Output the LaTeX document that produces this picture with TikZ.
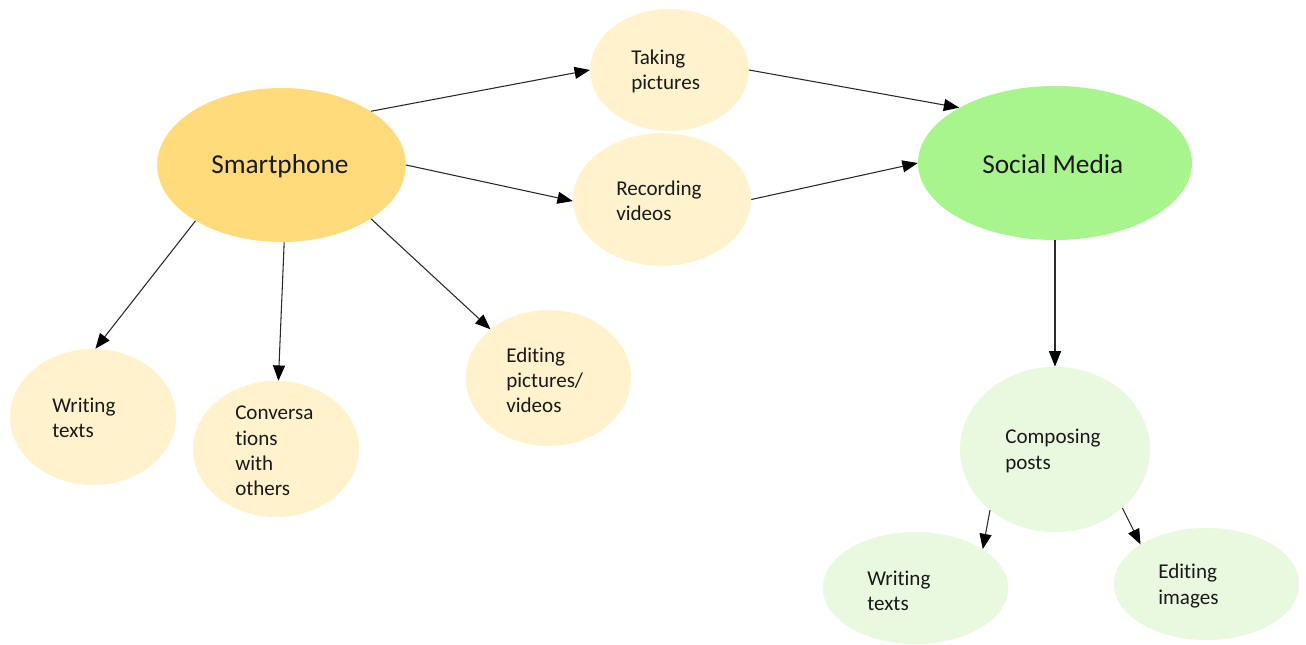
\documentclass[tikz,border=0pt]{standalone}
\usepackage{fontspec}
\setmainfont{Carlito}[Ligatures={NoCommon,NoRare,NoContextual}]
\usetikzlibrary{shapes.geometric,arrows.meta}
\definecolor{phonefill}{HTML}{FFDB7B}
\definecolor{lightfill}{HTML}{FFF2CC}
\definecolor{socialfill}{HTML}{A8F58E}
\definecolor{lgreenfill}{HTML}{E8F9DF}
\definecolor{txtcol}{HTML}{1A1A1A}
\definecolor{linecol}{HTML}{2A2A2A}
\tikzset{
  ell/.style={ellipse, draw=none, inner sep=0pt},
  txt/.style={anchor=west, inner sep=0pt, align=left, text=txtcol,
    font=\fontsize{15.8}{18.9}\selectfont},
  bigtxt/.style={anchor=west, inner sep=0pt, text=txtcol,
    font=\fontsize{20.5}{24}\selectfont},
  conn/.style={draw=linecol, line width=0.8pt,
    -{Triangle[length=11.5pt,width=9pt,color=black]}}
}
\begin{document}
\begin{tikzpicture}[x=0.75pt,y=-0.75pt]
\path[use as bounding box, fill=white] (0,0) rectangle (1306,644);
% ellipses
\node[ell, fill=phonefill, minimum width=186.5pt, minimum height=115.5pt] (sp) at (281.5,165) {};
\node[ell, fill=lightfill, minimum width=119pt, minimum height=91.5pt] (tp) at (669.5,70) {};
\node[ell, fill=lightfill, minimum width=133.5pt, minimum height=99.5pt] (rv) at (662,199.5) {};
\node[ell, fill=socialfill, minimum width=205.5pt, minimum height=115.5pt] (sm) at (1055,163) {};
\node[ell, fill=lightfill, minimum width=124.5pt, minimum height=102pt] (wt) at (93,417) {};
\node[ell, fill=lightfill, minimum width=124.5pt, minimum height=102pt] (co) at (276,449) {};
\node[ell, fill=lightfill, minimum width=124pt, minimum height=102pt] (ep) at (548.5,378) {};
\node[ell, fill=lgreenfill, minimum width=142.5pt, minimum height=124pt] (cp) at (1055,449.5) {};
\node[ell, fill=lgreenfill, minimum width=139pt, minimum height=84pt] (wb) at (915.5,588) {};
\node[ell, fill=lgreenfill, minimum width=139pt, minimum height=84pt] (ei) at (1206.5,584) {};
% texts
\node[bigtxt] (tsp) at (211,166) {Smartphone};
\node[bigtxt] (tsm) at (982,164) {Social Media};
\node[txt] (ttp) at (631,71) {Taking\\pictures};
\node[txt] (trv) at (616,201) {Recording\\videos};
\node[txt] (twt) at (52,418) {Writing\\texts};
\node[txt] (tco) at (235,451) {Conversa\\tions\\with\\others};
\node[txt] (tep) at (506,380) {Editing\\pictures/\\videos};
\node[txt] (tcp) at (1005,451) {Composing\\posts};
\node[txt] (twb) at (867,591) {Writing\\texts};
\node[txt] (tei) at (1158,586) {Editing\\images};
% connectors
\draw[conn] (sp.31.7) -- (tp.180.7);
\draw[conn] (sp.-0.5) -- (rv.181.9);
\draw[conn] (tp.-0.7) -- (sm.150.8);
\draw[conn] (rv.0.5) -- (sm.180.8);
\draw[conn] (sp.-147.4) -- (wt.88.3);
\draw[conn] (sp.-88.5) -- (co.88.3);
\draw[conn] (sp.-31.1) -- (ep.140.4);
\draw[conn] (sm.-90) -- (cp.90);
\draw[conn] (cp.-137.3) -- (wb.30.2);
\draw[conn] (cp.-41.8) -- (ei.149.7);
\end{tikzpicture}
\end{document}
